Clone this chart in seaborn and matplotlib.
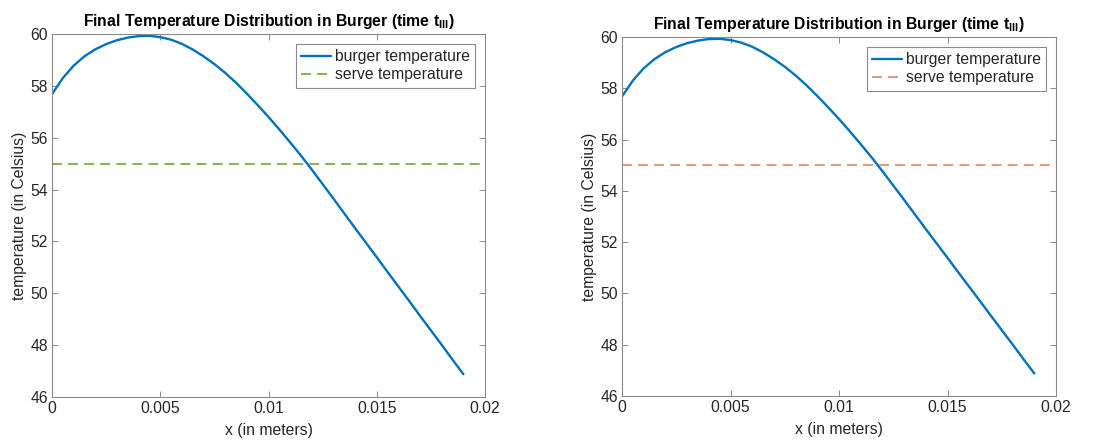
import matplotlib
matplotlib.use("Agg")
import matplotlib.pyplot as plt
import numpy as np
import pandas as pd
import seaborn as sns

# Position across the patty (metres) and final temperature (deg C)
position_m = [
    0.0000, 0.0005, 0.0010, 0.0015, 0.0020, 0.0025, 0.0030, 0.0035, 0.0040,
    0.0045, 0.0050, 0.0055, 0.0060, 0.0065, 0.0070, 0.0075, 0.0080, 0.0085,
    0.0090, 0.0095, 0.0100, 0.0105, 0.0110, 0.0115, 0.0120, 0.0125, 0.0130,
    0.0135, 0.0140, 0.0145, 0.0150, 0.0155, 0.0160, 0.0165, 0.0170, 0.0175,
    0.0180, 0.0185, 0.0190,
]
burger_temp_c = [
    57.68, 58.30, 58.78, 59.14, 59.41, 59.61, 59.76, 59.86, 59.92,
    59.93, 59.88, 59.78, 59.62, 59.40, 59.14, 58.84, 58.50, 58.12,
    57.70, 57.26, 56.80, 56.32, 55.82, 55.31, 54.77, 54.21, 53.65,
    53.08, 52.51, 51.95, 51.39, 50.82, 50.26, 49.70, 49.13, 48.57,
    48.01, 47.44, 46.88,
]
serve_temp_c = 55.0

x_ticks = [0.0, 0.005, 0.01, 0.015, 0.02]
x_tick_labels = ["0", "0.005", "0.01", "0.015", "0.02"]
y_ticks = [46, 48, 50, 52, 54, 56, 58, 60]
y_tick_labels = ["46", "48", "50", "52", "54", "56", "58", "60"]

panel_serve_colors = ["#7cae3a", "#e3906c"]

sns.set_theme(style="ticks")
plt.rcParams["font.family"] = ["Liberation Sans", "DejaVu Sans"]
plt.rcParams["mathtext.fontset"] = "custom"
plt.rcParams["mathtext.rm"] = "Liberation Sans"
plt.rcParams["mathtext.bf"] = "Liberation Sans:bold"
plt.rcParams["axes.unicode_minus"] = False

FS = 11.3
TEXT = "#262626"
AXIS = "#8a8a8a"

df = pd.DataFrame({"x": position_m, "temp": burger_temp_c})

fig = plt.figure(figsize=(11.08, 4.46), dpi=100)
axes_rects = [
    [52 / 1108, 1 - 397 / 446, 433 / 1108, 363 / 446],
    [622 / 1108, 1 - 396 / 446, 434 / 1108, 359 / 446],
]

for rect, serve_color in zip(axes_rects, panel_serve_colors):
    ax = fig.add_axes(rect)
    sns.lineplot(data=df, x="x", y="temp", ax=ax, color="#0072BD",
                 linewidth=1.7, label="burger temperature")
    ax.axhline(serve_temp_c, color=serve_color, linewidth=1.3,
               linestyle=(0, (5.5, 3.4)), label="serve temperature")

    ax.set_xlim(x_ticks[0], x_ticks[-1])
    ax.set_ylim(y_ticks[0], y_ticks[-1])
    ax.set_xticks(x_ticks, x_tick_labels)
    ax.set_yticks(y_ticks, y_tick_labels)
    ax.tick_params(direction="in", length=4, width=0.7, color=AXIS,
                   labelsize=FS, labelcolor=TEXT, top=True, right=True,
                   pad=3)
    for side in ["left", "right", "top", "bottom"]:
        ax.spines[side].set_visible(True)
        ax.spines[side].set_color(AXIS)
        ax.spines[side].set_linewidth(0.8)

    ax.set_xlabel("x (in meters)", fontsize=FS, color=TEXT, labelpad=5)
    ax.set_ylabel("temperature (in Celsius)", fontsize=FS, color=TEXT,
                  labelpad=2)
    ax.set_title(r"Final Temperature Distribution in Burger (time t$_{\mathbf{III}}$)",
                 fontsize=FS, fontweight="bold", color="black", pad=6)

    leg = ax.legend(loc="upper right", fontsize=FS, frameon=True,
                    fancybox=False, framealpha=1, edgecolor=AXIS,
                    borderpad=0.35, labelspacing=0.2, handlelength=1.9,
                    handletextpad=0.25, borderaxespad=0.62)
    leg.get_frame().set_linewidth(0.8)
    for t in leg.get_texts():
        t.set_color(TEXT)

fig.savefig("out.png", dpi=100, facecolor="white")
